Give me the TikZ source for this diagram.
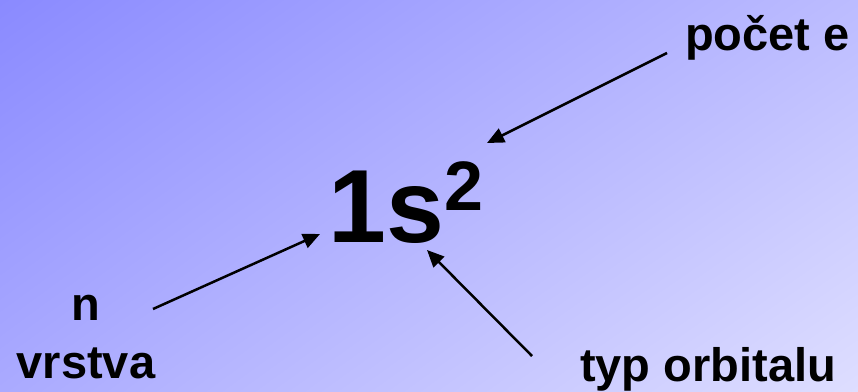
\documentclass[tikz,border=0pt]{standalone}
\usepackage{fontspec}
\setmainfont{Liberation Sans}
\usetikzlibrary{arrows.meta,shadings}
\definecolor{bgUL}{RGB}{138,138,255}
\definecolor{bgUR}{RGB}{188,188,255}
\definecolor{bgLL}{RGB}{170,170,255}
\definecolor{bgLR}{RGB}{222,222,255}
\tikzset{
  lbl/.style={inner sep=0pt, font=\bfseries\fontsize{47}{50}\selectfont},
  big/.style={inner sep=0pt, font=\bfseries\fontsize{104}{110}\selectfont},
  supnum/.style={inner sep=0pt, font=\bfseries\fontsize{70}{72}\selectfont},
  arr/.style={line width=2.5pt, -{Triangle[length=17pt,width=15pt]}}
}
\begin{document}
\begin{tikzpicture}[x=1pt,y=-1pt]
\shade[upper left=bgUL, upper right=bgUR, lower left=bgLL, lower right=bgLR] (0,0) rectangle (858,391);
\useasboundingbox (0,0) rectangle (858,391);
\node[big, anchor=base west] (main) at (328,242) {1s};
\node[supnum, anchor=base west] (two) at (444,210) {2};
\node[lbl, anchor=base east] (pocet) at (850,50) {počet e};
\node[lbl, anchor=base] (n) at (86,320) {n};
\node[lbl, anchor=base] (vrstva) at (86,378) {vrstva};
\node[lbl, anchor=base west] (typ) at (580,381) {typ orbitalu};
\coordinate (a1s) at (667,53);
\coordinate (a1e) at (487,143);
\coordinate (a2s) at (153,309);
\coordinate (a2e) at (320,234);
\coordinate (a3s) at (532,356);
\coordinate (a3e) at (427,250);
\draw[arr] (a1s) -- (a1e);
\draw[arr] (a2s) -- (a2e);
\draw[arr] (a3s) -- (a3e);
\end{tikzpicture}
\end{document}
